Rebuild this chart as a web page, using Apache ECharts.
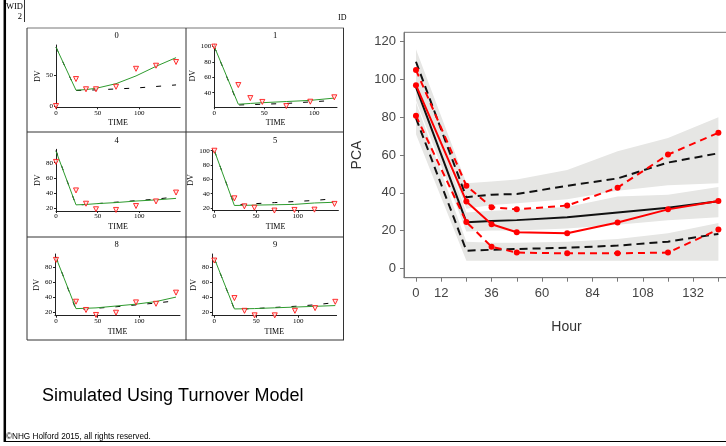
<!DOCTYPE html>
<html>
<head>
<meta charset="utf-8">
<script src="https://cdn.jsdelivr.net/npm/echarts@6/dist/echarts.min.js"></script>
<style>
  html, body { margin: 0; padding: 0; background: #fff; }
  #wrap { position: relative; width: 726px; height: 446px; }
  #fits, #vpc { position: absolute; left: 0; top: 0; width: 726px; height: 446px; }
</style>
</head>
<body>
<div id="wrap"><div id="fits"></div><div id="vpc"></div></div>
<script>
// ---------- VPC (right) ----------
const hours = [0, 24, 36, 48, 72, 96, 120, 144];
const obsUpper = [105, 43.7, 32.3, 31.2, 33.2, 42.7, 60.2, 71.8];
const obsMedian = [97, 35.4, 23.3, 19.1, 18.5, 24.2, 31.2, 35.6];
const obsLower = [80.8, 24.5, 11.4, 8.3, 7.9, 7.9, 8.3, 20.6];
const simUpper = [109.4, 37.6, 39, 39.3, 43.7, 47.6, 56, 60.9];
const simMedian = [96, 24.4, 25, 25.5, 27, 29.5, 32, 35.5];
const simLower = [79.5, 9.3, 9.8, 10.2, 10.9, 12, 14.1, 18.2];
const ciUpperLo = [101, 31.5, 33.5, 34.5, 36.5, 41, 44, 45];
const ciUpperHi = [116, 45, 46, 47, 52, 62, 69, 80];
const ciMedianLo = [89, 19.5, 20, 20, 21, 23, 25.5, 27];
const ciMedianHi = [104, 29.5, 30.5, 31, 32.5, 38, 39, 43];
const ciLowerLo = [71, 4, 4, 4, 4, 4, 4, 4];
const ciLowerHi = [88, 14, 13.5, 13.5, 14, 15.5, 18.5, 24];
const pcaTicks = [0, 20, 40, 60, 80, 100, 120];
const hourTicks = [0, 12, 24, 36, 48, 60, 72, 84, 96, 108, 120, 132, 144];
const hourLabels = [0, 12, 36, 60, 84, 108, 132];

// ---------- individual fits (left) ----------
const sampleTimes = [0, 24, 36, 48, 72, 96, 120, 144];
const panelIds = ['0', '1', '4', '5', '8', '9'];
const dv0 = [0, 43.5, 27, 27, 31, 60, 65, 71];
const dv1 = [100, 50, 33, 28, 22.6, 28.3, 34];
const dv4 = [81, 43.5, 26, 18.7, 17.8, 23, 29, 40.7];
const dv5 = [100, 33.5, 22.3, 20.4, 16.4, 17.3, 17.7, 25.7];
const dv8 = [90, 33.8, 22.7, 16, 19, 32.9, 31, 46];
const dv9 = [89, 39, 22, 16, 16, 22, 25.6, 34];
const ipred0 = [95, 25.5, 26.5, 28.5, 36, 48.5, 64, 78];
const ipred1 = [100, 25, 26, 27, 28.5, 30, 33];
const ipred4 = [95, 24.5, 25, 26, 27.5, 29.5, 31, 33];
const ipred5 = [100, 23.5, 23.7, 24, 24.5, 25, 27, 28];
const ipred8 = [93, 24.5, 25, 25.5, 28, 30.5, 34, 40];
const ipred9 = [92, 24.5, 24.7, 25, 26, 27, 28, 29];
const pred0 = [95, 25, 25.5, 26, 27.5, 29, 31.5, 34];
const pred1 = [100, 24, 24.5, 25, 26, 28, 30];
const pred4 = [96, 24, 25, 26, 28, 30, 32, 35];
const pred5 = [100, 24, 25, 26, 27.5, 29, 30.5, 33];
const pred8 = [94, 23, 24, 25, 27, 29.5, 32, 35];
const pred9 = [92, 24, 24.5, 25, 26.5, 28, 30, 33];
const timeTicks = [0, 50, 100];
const dvTicks0 = [0, 50];
const dvTicks1 = [40, 60, 80, 100];
const dvTicks4 = [20, 40, 60, 80];
const dvTicks5 = [20, 40, 60, 80, 100];
const dvTicks8 = [20, 40, 60, 80];
const dvTicks9 = [20, 40, 60, 80];

const zip = (xs, ys) => ys.map((y, i) => [xs[i], y]);

const panels = [
  { id: panelIds[0], dv: dv0, ipred: ipred0, pred: pred0, ticks: dvTicks0 },
  { id: panelIds[1], dv: dv1, ipred: ipred1, pred: pred1, ticks: dvTicks1 },
  { id: panelIds[2], dv: dv4, ipred: ipred4, pred: pred4, ticks: dvTicks4 },
  { id: panelIds[3], dv: dv5, ipred: ipred5, pred: pred5, ticks: dvTicks5 },
  { id: panelIds[4], dv: dv8, ipred: ipred8, pred: pred8, ticks: dvTicks8 },
  { id: panelIds[5], dv: dv9, ipred: ipred9, pred: pred9, ticks: dvTicks9 }
];

// panel placement (pixels) and axis extents
const panelBoxes = [
  { left: 56,    top: 45,    width: 124.2, height: 62.3, x: [0, 149],      y: [-2.1, 98.4], tx: 116.5, ty: 36 },
  { left: 214.3, top: 44.3,  width: 122.7, height: 63,   x: [0, 122.7],    y: [21, 103],    tx: 275,   ty: 36 },
  { left: 56,    top: 149.3, width: 124.2, height: 61.7, x: [0, 149],      y: [16.4, 97.6], tx: 116.5, ty: 140.7 },
  { left: 212.7, top: 149.3, width: 125.7, height: 61.4, x: [-2, 148.7],   y: [16.2, 102],  tx: 275,   ty: 140.7 },
  { left: 55,    top: 254,   width: 125,   height: 61.7, x: [-1.2, 148.8], y: [15, 97.9],   tx: 116.5, ty: 245 },
  { left: 212,   top: 254,   width: 124.6, height: 61.7, x: [-2.7, 145.6], y: [15.5, 97.7], tx: 275,   ty: 245 }
];

const SERIF = '"Liberation Serif", "DejaVu Serif", serif';
const SANS = '"Liberation Sans", Arial, sans-serif';

// ===== lattice of individual fits + page furniture =====
const grids = [], xAxes = [], yAxes = [], series = [], graphics = [];

panels.forEach((p, i) => {
  const b = panelBoxes[i];
  grids.push({ left: b.left, top: b.top, width: b.width, height: b.height, outerBoundsMode: 'none', containLabel: false });
  xAxes.push({
    type: 'value', gridIndex: i, min: b.x[0], max: b.x[1],
    name: 'TIME', nameLocation: 'middle', nameGap: 12,
    nameTextStyle: { fontFamily: SERIF, fontSize: 8, color: '#000' },
    axisLine: { show: true, onZero: false, lineStyle: { color: '#222', width: 1 } },
    axisTick: { show: true, length: 2, customValues: timeTicks, lineStyle: { color: '#222' } },
    axisLabel: { customValues: timeTicks, margin: 2, fontFamily: SERIF, fontSize: 7, color: '#000' },
    splitLine: { show: false }
  });
  const col = i % 2;
  yAxes.push({
    type: 'value', gridIndex: i, min: b.y[0], max: b.y[1],
    name: 'DV', nameLocation: 'middle', nameGap: col === 0 ? 14 : b.left - 197.5,
    nameTextStyle: { fontFamily: SERIF, fontSize: 8, color: '#000' },
    axisLine: { show: true, onZero: false, lineStyle: { color: '#222', width: 1 } },
    axisTick: { show: true, length: 2, customValues: p.ticks, lineStyle: { color: '#222' } },
    axisLabel: { customValues: p.ticks, margin: 3, fontFamily: SERIF, fontSize: 7, color: '#000' },
    splitLine: { show: false }
  });
  const t = sampleTimes.slice(0, p.dv.length);
  series.push({
    type: 'line', xAxisIndex: i, yAxisIndex: i, data: zip(t, p.pred),
    symbol: 'none', silent: true, z: 2,
    lineStyle: { color: '#000', width: 1, type: [5, 11] }
  });
  series.push({
    type: 'line', xAxisIndex: i, yAxisIndex: i, data: zip(t, p.ipred),
    symbol: 'none', silent: true, z: 3,
    lineStyle: { color: '#2e9b2e', width: 1 }
  });
  series.push({
    type: 'scatter', xAxisIndex: i, yAxisIndex: i, data: zip(t, p.dv),
    symbol: 'triangle', symbolRotate: 180, symbolSize: 5, silent: true, z: 4,
    itemStyle: { color: '#ffe0e0', borderColor: '#ff0000', borderWidth: 1 }
  });
  graphics.push({
    type: 'text', x: b.tx, y: b.ty,
    style: { text: p.id, font: '8.5px ' + SERIF, fill: '#000', textAlign: 'center', textVerticalAlign: 'middle' }
  });
});

const frame = '#333';
const line = (x1, y1, x2, y2, color, w) => ({
  type: 'line', silent: true, z: 10,
  shape: { x1, y1, x2, y2 },
  style: { stroke: color, lineWidth: w }
});
graphics.push(
  line(4.8, 0, 4.8, 442, '#000', 2.5),
  line(4, 441.5, 726, 441.5, '#000', 1),
  line(24.5, 0, 24.5, 22, '#333', 1),
  line(27, 28, 344, 28, '#777', 1),
  line(27, 28, 27, 340, frame, 1),
  line(343.5, 28, 343.5, 340, frame, 1),
  line(27, 340, 344, 340, frame, 1),
  line(186, 28, 186, 340, frame, 1),
  line(27, 132, 344, 132, frame, 1),
  line(27, 237, 344, 237, frame, 1),
  { type: 'text', x: 23, y: 7, style: { text: 'WID', font: '8.5px ' + SERIF, fill: '#000', textAlign: 'right', textVerticalAlign: 'middle' } },
  { type: 'text', x: 22, y: 16.5, style: { text: '2', font: '8.5px ' + SERIF, fill: '#000', textAlign: 'right', textVerticalAlign: 'middle' } },
  { type: 'text', x: 338, y: 18, style: { text: 'ID', font: '8px ' + SERIF, fill: '#000', textAlign: 'left', textVerticalAlign: 'middle' } },
  { type: 'text', x: 42, y: 396, style: { text: 'Simulated Using Turnover Model', font: '18px ' + SANS, fill: '#000', textAlign: 'left', textVerticalAlign: 'middle' } },
  { type: 'text', x: 6, y: 437, style: { text: '\u00A9NHG Holford 2015, all rights reserved.', font: '8.2px ' + SANS, fill: '#000', textAlign: 'left', textVerticalAlign: 'middle' } }
);

const fitsChart = echarts.init(document.getElementById('fits'), null, { renderer: 'canvas' });
fitsChart.setOption({
  backgroundColor: '#fff',
  animation: false,
  grid: grids,
  xAxis: xAxes,
  yAxis: yAxes,
  series: series,
  graphic: { elements: graphics }
});

// ===== visual predictive check =====
// shaded confidence bands drawn as polygons through the axis scales
function bandSeries(lo, hi) {
  return {
    type: 'custom', silent: true, z: 1,
    data: hours.map((h, i) => [h, lo[i], hi[i]]),
    encode: { x: 0, y: [1, 2] },
    renderItem(params, api) {
      if (params.dataIndexInside !== 0) return;
      const n = params.dataInsideLength;
      const upper = [], lower = [];
      for (let k = 0; k < n; k++) {
        const tx = api.value(0, k);
        upper.push(api.coord([tx, api.value(2, k)]));
        lower.push(api.coord([tx, api.value(1, k)]));
      }
      return {
        type: 'polygon',
        shape: { points: upper.concat(lower.reverse()) },
        style: { fill: '#e6e6e4', stroke: null }
      };
    }
  };
}
function simLine(vals, dashed) {
  return {
    type: 'line', data: zip(hours, vals),
    symbol: 'none', silent: true, z: 5,
    lineStyle: { color: '#111', width: 2, type: dashed ? [8, 5] : 'solid' }
  };
}
function obsLine(vals, dashed) {
  return {
    type: 'line', data: zip(hours, vals),
    symbol: 'circle', symbolSize: 6, showSymbol: true, silent: true, z: 6,
    itemStyle: { color: '#ff0000', borderWidth: 0 },
    lineStyle: { color: '#ff0000', width: 2, type: dashed ? [7, 5] : 'solid' }
  };
}

const vpcChart = echarts.init(document.getElementById('vpc'), null, { renderer: 'canvas' });
vpcChart.setOption({
  backgroundColor: 'transparent',
  animation: false,
  grid: { left: 404, top: 32.3, width: 324.9, height: 245.4, show: true, borderColor: '#777', borderWidth: 1, outerBoundsMode: 'none' },
  xAxis: {
    type: 'value', min: -5.7, max: 149,
    name: 'Hour', nameLocation: 'middle', nameGap: 42,
    nameTextStyle: { fontFamily: SANS, fontSize: 14, color: '#333' },
    axisLine: { onZero: false, lineStyle: { color: '#777', width: 1 } },
    axisTick: { length: 4, customValues: hourTicks, lineStyle: { color: '#777' } },
    axisLabel: { customValues: hourLabels, margin: 9, fontFamily: SANS, fontSize: 13, color: '#444' },
    splitLine: { show: false }
  },
  yAxis: {
    type: 'value', min: -5, max: 125,
    name: 'PCA', nameLocation: 'middle', nameGap: 40,
    nameTextStyle: { fontFamily: SANS, fontSize: 14, color: '#333' },
    axisLine: { show: true, onZero: false, lineStyle: { color: '#777', width: 1 } },
    axisTick: { show: true, length: 4, customValues: pcaTicks, lineStyle: { color: '#777' } },
    axisLabel: { customValues: pcaTicks, margin: 8, fontFamily: SANS, fontSize: 13, color: '#444' },
    splitLine: { show: false }
  },
  series: [
    bandSeries(ciUpperLo, ciUpperHi),
    bandSeries(ciMedianLo, ciMedianHi),
    bandSeries(ciLowerLo, ciLowerHi),
    simLine(simUpper, true),
    simLine(simMedian, false),
    simLine(simLower, true),
    obsLine(obsUpper, true),
    obsLine(obsMedian, false),
    obsLine(obsLower, true)
  ]
});
</script>
</body>
</html>
